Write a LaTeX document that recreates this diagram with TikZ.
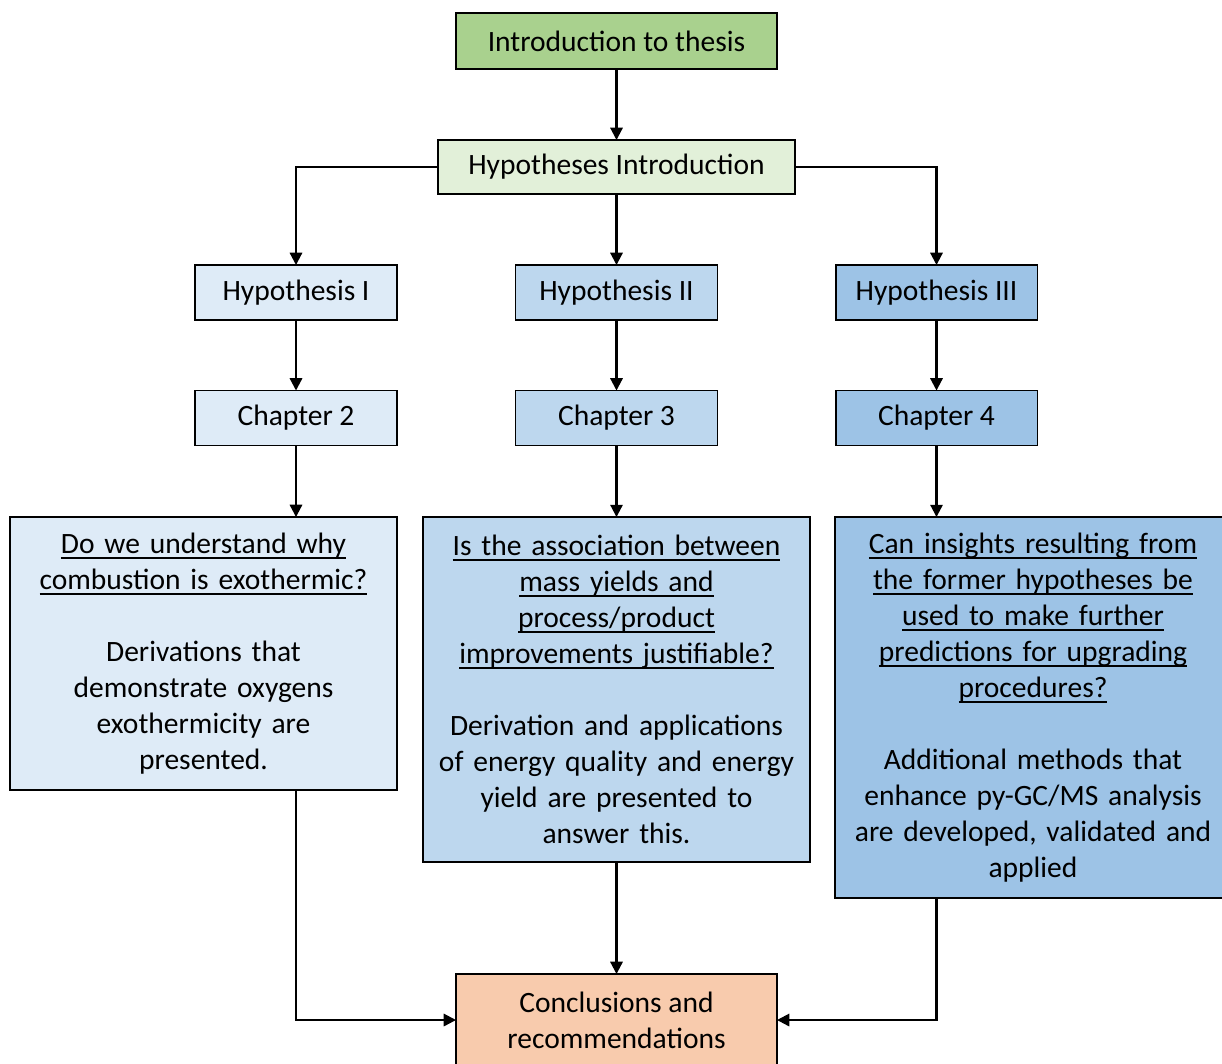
\documentclass[tikz,border=0pt]{standalone}
\usepackage{fontspec}
\setmainfont{Carlito}
\usetikzlibrary{arrows.meta}
\newsavebox\myulbox
\newcommand\myul[1]{\leavevmode\sbox\myulbox{#1}\rlap{\rule[-3pt]{\wd\myulbox}{0.9pt}}\usebox\myulbox}
\definecolor{cIntro}{HTML}{A9D18E}
\definecolor{cHypIntro}{HTML}{E2F0D9}
\definecolor{cBlueA}{HTML}{DEEBF7}
\definecolor{cBlueB}{HTML}{BDD7EE}
\definecolor{cBlueC}{HTML}{9DC3E6}
\definecolor{cConcl}{HTML}{F8CBAD}
\tikzset{
  box/.style={draw=black, line width=1.1pt, rectangle, inner sep=0pt, outer sep=0pt,
    align=center, font=\fontsize{16.8}{20.5}\selectfont},
  conn/.style={line width=1.2pt, -{Triangle[length=7pt,width=7pt]}},
}
\begin{document}
\begin{tikzpicture}[x={(0.02cm,0)}, y={(0,-0.02cm)}]
\clip (0,0) rectangle (1222,1063);
\fill[white] (0,0) rectangle (1222,1063);

\node[box, fill=cIntro, minimum width=6.42cm, minimum height=1.12cm] (intro) at (616.5,41) {Introduction to thesis};
\node[box, fill=cHypIntro, minimum width=7.14cm, minimum height=1.08cm] (hypintro) at (616.5,167) {Hypotheses Introduction};

\node[box, fill=cBlueA, minimum width=4.04cm, minimum height=1.1cm] (h1) at (296,292.5) {Hypothesis I};
\node[box, fill=cBlueB, minimum width=4.04cm, minimum height=1.1cm] (h2) at (616.5,292.5) {Hypothesis II};
\node[box, fill=cBlueC, minimum width=4.04cm, minimum height=1.1cm] (h3) at (936.5,292.5) {Hypothesis III};

\node[box, fill=cBlueA, minimum width=4.04cm, minimum height=1.1cm] (c2) at (296,418) {Chapter 2};
\node[box, fill=cBlueB, minimum width=4.04cm, minimum height=1.1cm] (c3) at (616.5,418) {Chapter 3};
\node[box, fill=cBlueC, minimum width=4.04cm, minimum height=1.1cm] (c4) at (936.5,418) {Chapter 4};

\node[box, fill=cBlueA, minimum width=7.74cm, minimum height=5.46cm, text width=7.6cm] (b1) at (203.5,653.5)
 {\myul{Do we understand why}\\ \myul{combustion is exothermic?}\\[20.5pt]
  Derivations that\\ demonstrate oxygens\\ exothermicity are\\ presented.};
\node[box, fill=cBlueB, minimum width=7.74cm, minimum height=6.9cm, text width=7.6cm] (b2) at (616.5,689.5)
 {\myul{Is the association between}\\ \myul{mass yields and}\\ \myul{process/product}\\ \myul{improvements justifiable?}\\[20.5pt]
  Derivation and applications\\ of energy quality and energy\\ yield are presented to\\ answer this.};
\node[box, fill=cBlueC, minimum width=7.92cm, minimum height=7.62cm, text width=7.8cm] (b3) at (1033,707.5)
 {\myul{Can insights resulting from}\\ \myul{the former hypotheses be}\\ \myul{used to make further}\\ \myul{predictions for upgrading}\\ \myul{procedures?}\\[20.5pt]
  Additional methods that\\ enhance py-GC/MS analysis\\ are developed, validated and\\ applied};

\node[box, fill=cConcl, minimum width=6.42cm, minimum height=1.84cm] (concl) at (616.5,1020)
 {Conclusions and\\ recommendations};

\draw[conn] (intro) -- (hypintro);
\draw[conn] (hypintro.west) -| (h1.north);
\draw[conn] (hypintro) -- (h2);
\draw[conn] (hypintro.east) -| (h3.north);
\draw[conn] (h1) -- (c2);
\draw[conn] (h2) -- (c3);
\draw[conn] (h3) -- (c4);
\draw[conn] (c2.south) -- (c2.south |- b1.north);
\draw[conn] (c3.south) -- (c3.south |- b2.north);
\draw[conn] (c4.south) -- (c4.south |- b3.north);
\draw[conn] (c2.south |- b1.south) |- (concl.west);
\draw[conn] (b2.south) -- (concl.north);
\draw[conn] (c4.south |- b3.south) |- (concl.east);
\end{tikzpicture}
\end{document}
